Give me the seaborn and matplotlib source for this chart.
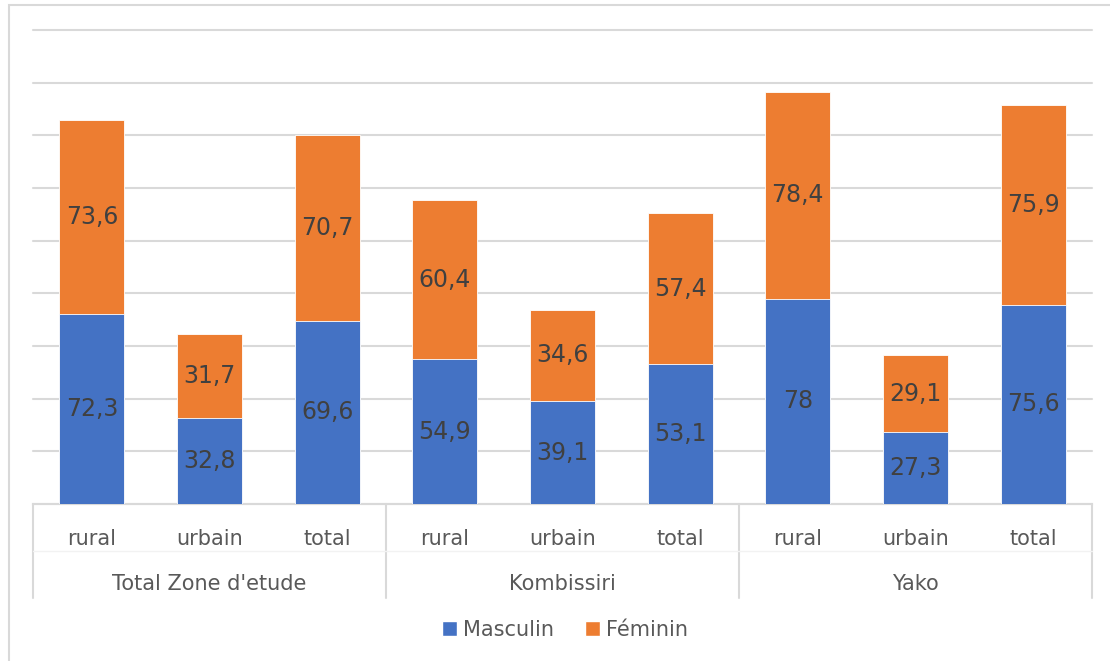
import pandas as pd
import seaborn as sns
import matplotlib.pyplot as plt
from matplotlib.patches import Rectangle, Patch
import matplotlib.transforms as mtransforms

# Data
zones = ["Total Zone d'etude", "Kombissiri", "Yako"]
milieux = ["rural", "urbain", "total"]
masculin = [72.3, 32.8, 69.6, 54.9, 39.1, 53.1, 78, 27.3, 75.6]
feminin = [73.6, 31.7, 70.7, 60.4, 34.6, 57.4, 78.4, 29.1, 75.9]

df = pd.DataFrame({
    'zone': [z for z in zones for _ in milieux],
    'milieu': milieux * len(zones),
    'Masculin': masculin,
    'Féminin': feminin,
})
df['cle'] = df['zone'] + '|' + df['milieu']
df['cumul'] = df['Masculin'] + df['Féminin']

blue = '#4472C4'
orange = '#ED7D31'
grid_col = '#D9D9D9'
txt_col = '#404040'
lab_col = '#595959'

sns.set_style('white')
plt.rcParams['font.family'] = ['DejaVu Sans']

fig = plt.figure(figsize=(11.1, 6.61), dpi=100)
ax = fig.add_axes([33 / 1110, 1 - 504 / 661, (1092 - 33) / 1110, (504 - 30) / 661])

# stacked bars: total in orange, then masculin on top of it
sns.barplot(data=df, x='cle', y='cumul', order=df['cle'], color=orange, saturation=1,
            width=0.55, edgecolor='white', linewidth=0.6, ax=ax, zorder=2)
sns.barplot(data=df, x='cle', y='Masculin', order=df['cle'], color=blue, saturation=1,
            width=0.55, edgecolor='white', linewidth=0.6, ax=ax, zorder=3)

# data labels
for i, row in df.iterrows():
    m, f = row['Masculin'], row['Féminin']
    ax.text(i, m / 2, f'{m:g}'.replace('.', ','), ha='center', va='center',
            fontsize=17, color=txt_col, zorder=4)
    ax.text(i, m + f / 2, f'{f:g}'.replace('.', ','), ha='center', va='center',
            fontsize=17, color=txt_col, zorder=4)

ax.set_ylim(0, 180)
ax.set_xlim(-0.5, len(df) - 0.5)
ax.set_yticks(range(0, 181, 20))
ax.set_yticklabels([])
ax.yaxis.grid(True, color=grid_col, linewidth=1.5)
for gl in ax.get_ygridlines():
    gl.set_clip_on(False)
ax.set_axisbelow(True)
for s in ['left', 'right', 'top']:
    ax.spines[s].set_visible(False)
ax.spines['bottom'].set_color(grid_col)
ax.spines['bottom'].set_linewidth(1.5)
ax.set_xlabel('')
ax.set_ylabel('')
ax.set_xticks(range(len(df)))
ax.set_xticklabels(df['milieu'], fontsize=15, color=lab_col)
ax.tick_params(axis='x', length=0, pad=18)
ax.tick_params(axis='y', length=0)

# multi-level category axis
trans = mtransforms.blended_transform_factory(ax.transData, ax.transAxes)
for b in [-0.5, 2.5, 5.5, 8.5]:
    ax.plot([b, b], [0, -94 / 474], transform=trans, color=grid_col,
            linewidth=1.5, clip_on=False)
ax.plot([-0.5, 8.5], [-47 / 474, -47 / 474], transform=trans, color='#F2F2F2',
        linewidth=1, clip_on=False)
for k, z in enumerate(zones):
    ax.text(3 * k + 1, -80 / 474, z, transform=trans, ha='center', va='center',
            fontsize=15, color=lab_col)

# legend
handles = [Patch(facecolor=blue, label='Masculin'), Patch(facecolor=orange, label='Féminin')]
fig.legend(handles=handles, loc='center', bbox_to_anchor=(565 / 1110, 1 - 630 / 661),
           ncol=2, frameon=False, fontsize=15, handlelength=0.7, handleheight=0.7,
           handletextpad=0.3, columnspacing=1.5, labelcolor=lab_col)

# outer chart border
fig.patches.append(Rectangle((9 / 1110, -0.05), 1.0, 1 - 5 / 661 + 0.05,
                             transform=fig.transFigure, fill=False,
                             edgecolor=grid_col, linewidth=1.5))

fig.savefig('out.png', dpi=100)
